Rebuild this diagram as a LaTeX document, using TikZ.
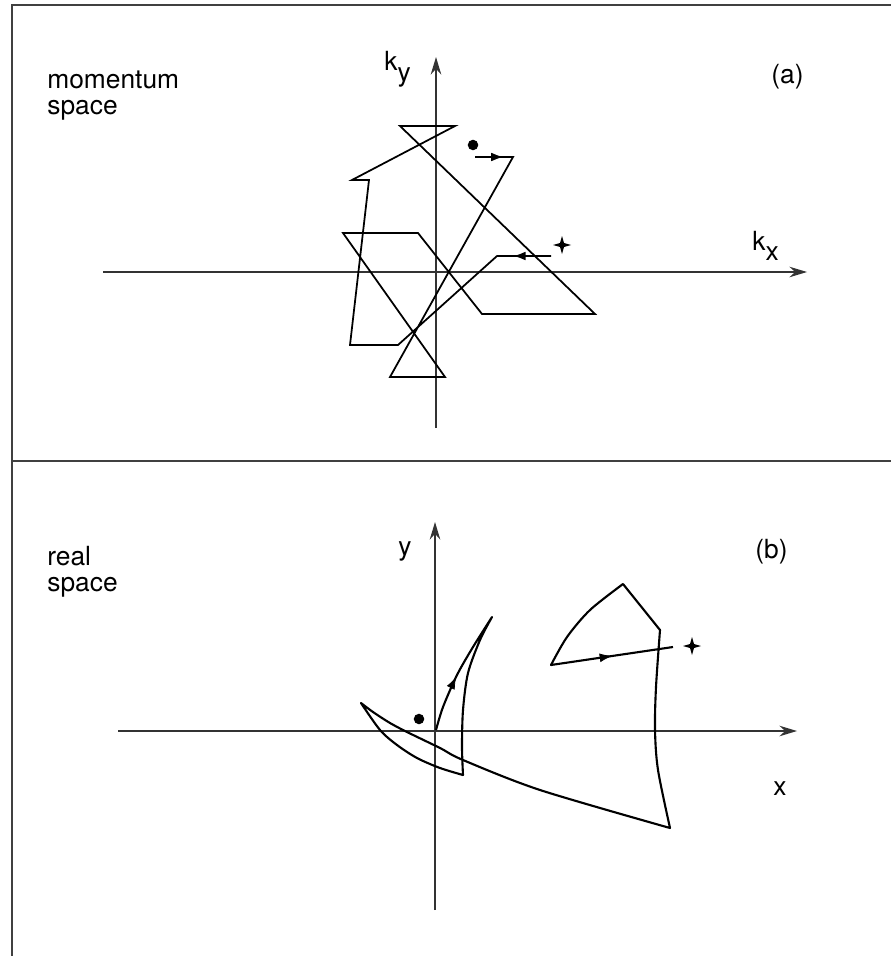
\documentclass[tikz,border=0pt]{standalone}
\usepackage{fontspec}
\setmainfont{TeX Gyre Heros}
\usetikzlibrary{arrows.meta,decorations.markings}
\tikzset{
    axis/.style={
        draw=black!80,
        line width=0.8pt,
        -{Stealth[length=10pt,width=6pt]}
    },
    orbit/.style={
        draw,
        line width=1pt,
        line join=miter
    },
    midarrow/.style={
        postaction={decorate},
        decoration={markings, mark=at position #1 with {\arrow{Latex[length=7pt,width=5pt]}}}
    },
    midarrowrev/.style={
        postaction={decorate},
        decoration={markings, mark=at position #1 with {\arrowreversed{Latex[length=7pt,width=5pt]}}}
    },
    startdot/.style={circle, fill, inner sep=0pt, minimum size=6pt},
    txt/.style={
        anchor=base west,
        align=left,
        inner sep=0pt,
        font=\fontsize{15}{14.8}\selectfont % same size for every label
    }
}
% four-pointed end mark
\newcommand{\finalmark}[1]{\fill[shift={(#1)}] (0,-9) -- (2,-2) -- (9,0) -- (2,2) -- (0,9) -- (-2,2) -- (-9,0) -- (-2,-2) -- cycle;}

\begin{document}
\begin{tikzpicture}[x=0.02cm, y=-0.02cm]
    \useasboundingbox (0,0) rectangle (891,956);

    % frame
    \draw[black!75, line width=1.2pt] (891,5) -- (12,5) -- (12,956);
    \draw[black!75, line width=1.2pt] (12,461) -- (891,461);

    % (a) momentum space
    \draw[axis] (103,272) -- (807,272);
    \draw[axis] (436,428) -- (436,57);
    \node (mspace) [txt] at (47,115) {momentum\\space};
    \node (ka) [txt] at (771,84) {(a)};
    \node (kylab) [txt] at (384,71) {k\raisebox{-6pt}{y}};
    \node (kxlab) [txt] at (752,250) {k\raisebox{-6pt}{x}};

    \node (dota) [startdot] at (473,145) {};
    \draw[orbit] (475,157) -- (513,157) -- (390,377) -- (445,377) -- (343,233)
        -- (418,233) -- (482,314) -- (595,314) -- (400,126) -- (455,126)
        -- (352,180) -- (369,180) -- (350,345) -- (398,345) -- (497,256) -- (551,256);
    \draw[orbit, midarrow=0.75] (475,157) -- (513,157);
    \draw[orbit, midarrowrev=0.3] (497,256) -- (551,256);
    \coordinate (stara) at (562,245);
    \finalmark{stara}

    % (b) real space
    \draw[axis] (118,731) -- (797,731);
    \draw[axis] (435,910) -- (435,522);
    \node (rspace) [txt] at (47,591) {real\\space};
    \node (kb) [txt] at (755,558) {(b)};
    \node (ylab) [txt] at (398,555) {y};
    \node (xlab) [txt] at (773,795) {x};

    \node (dotb) [startdot] at (419,719) {};
    \draw[orbit, line width=1.2pt, line join=round]
        plot[smooth] coordinates {(436,730) (443,707) (457,675) (473,647) (492,617)}
        -- plot[smooth] coordinates {(492,617) (480,640) (468,673) (463,710) (462,747) (463,775)}
        -- plot[smooth] coordinates {(463,775) (440,768) (417,758) (397,745) (380,730) (361,703)}
        -- plot[smooth] coordinates {(361,703) (373,712) (390,723) (407,732) (440,748) (463,760) (540,790) (670,828)}
        -- plot[smooth] coordinates {(670,828) (658,770) (655,730) (656,687) (660,630)}
        -- (623,584)
        -- plot[smooth] coordinates {(623,584) (590,610) (567,637) (551,665)}
        -- (673,647);
    \path[midarrow=0.45] plot[smooth] coordinates {(436,730) (443,707) (457,675) (473,647) (492,617)};
    \path[midarrow=0.5] (551,665) -- (673,647);
    \coordinate (starb) at (692,646);
    \finalmark{starb}
\end{tikzpicture}
\end{document}
